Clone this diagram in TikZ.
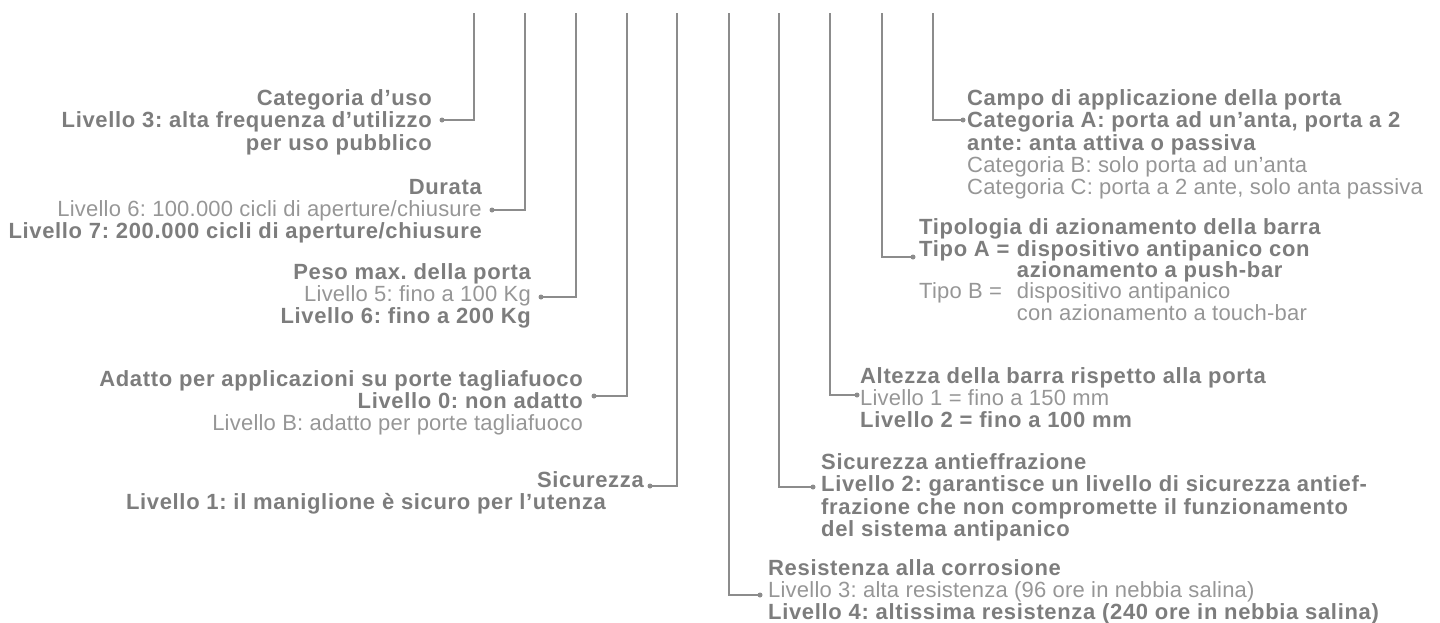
\documentclass[tikz,border=0pt]{standalone}
\usepackage{fontspec}
\setmainfont{Liberation Sans}
\newfontfamily\regf{Liberation Sans}[LetterSpace=1]
\newfontfamily\boldf{Liberation Sans}[LetterSpace=3]
\definecolor{tb}{RGB}{125,125,125}
\definecolor{tr}{RGB}{150,150,150}
\definecolor{ln}{RGB}{140,140,140}
\frenchspacing
\begin{document}
\begin{tikzpicture}[x=1pt,y=-1pt,
  lb/.style={font=\fontsize{22}{22}\boldf\bfseries\frenchspacing, text=tb, inner sep=0pt},
  lr/.style={font=\fontsize{22}{22}\regf\frenchspacing, text=tr, inner sep=0pt},
  conn/.style={draw=ln, line width=1.8pt},
  dotn/.style={circle, fill=ln, inner sep=0pt, minimum size=5pt}]
\useasboundingbox (0,0) rectangle (1440,622);

% ---------- left group ----------
\node[lb, anchor=base east] (a1) at (432,105) {Categoria d’uso};
\node[lb, anchor=base east] (a2) at (432,127) {Livello 3: alta frequenza d’utilizzo};
\node[lb, anchor=base east] (a3) at (432,150) {per uso pubblico};

\node[lb, anchor=base east] (b1) at (482,194) {Durata};
\node[lr, anchor=base east] (b2) at (482,216) {Livello 6: 100.000 cicli di aperture/chiusure};
\node[lb, anchor=base east] (b3) at (482,238) {Livello 7: 200.000 cicli di aperture/chiusure};

\node[lb, anchor=base east] (p1) at (531,279) {Peso max. della porta};
\node[lr, anchor=base east] (p2) at (531,301) {Livello 5: fino a 100 Kg};
\node[lb, anchor=base east] (p3) at (531,323) {Livello 6: fino a 200 Kg};

\node[lb, anchor=base east] (f1) at (583,386) {Adatto per applicazioni su porte tagliafuoco};
\node[lb, anchor=base east] (f2) at (583,408) {Livello 0: non adatto};
\node[lr, anchor=base east] (f3) at (583,430) {Livello B: adatto per porte tagliafuoco};

\node[lb, anchor=base east] (s1) at (644,487) {Sicurezza};
\node[lb, anchor=base] (s2) at (366,509) {Livello 1: il maniglione è sicuro per l’utenza};

% ---------- right group ----------
\node[lb, anchor=base west] (g1) at (967,105) {Campo di applicazione della porta};
\node[lb, anchor=base west] (g2) at (967,127) {Categoria A: porta ad un’anta, porta a 2};
\node[lb, anchor=base west] (g3) at (967,150) {ante: anta attiva o passiva};
\node[lr, anchor=base west] (g4) at (967,172) {Categoria B: solo porta ad un’anta};
\node[lr, anchor=base west] (g5) at (967,194) {Categoria C: porta a 2 ante, solo anta passiva};

\node[lb, anchor=base west] (h1) at (919,234) {Tipologia di azionamento della barra};
\node[lb, anchor=base west] (h2) at (919,256) {Tipo A =};
\node[lb, anchor=base west] (h2b) at ([xshift=7pt]h2.base east) {dispositivo antipanico con};
\node[lb, anchor=base west] (h3) at ([yshift=-21pt]h2b.base west) {azionamento a push-bar};
\node[lr, anchor=base west] (h4) at (919,298) {Tipo B =};
\node[lr, anchor=base west] (h4b) at (h2b.base west |- h4.base) {dispositivo antipanico};
\node[lr, anchor=base west] (h5) at ([yshift=-22pt]h4b.base west) {con azionamento a touch-bar};

\node[lb, anchor=base west] (k1) at (860,383) {Altezza della barra rispetto alla porta};
\node[lr, anchor=base west] (k2) at (860,405) {Livello 1 = fino a 150 mm};
\node[lb, anchor=base west] (k3) at (860,427) {Livello 2 = fino a 100 mm};

\node[lb, anchor=base west] (m1) at (821,469) {Sicurezza antieffrazione};
\node[lb, anchor=base west] (m2) at (821,491) {Livello 2: garantisce un livello di sicurezza antief-};
\node[lb, anchor=base west] (m3) at (821,514) {frazione che non compromette il funzionamento};
\node[lb, anchor=base west] (m4) at (821,536) {del sistema antipanico};

\node[lb, anchor=base west] (r1) at (768,575) {Resistenza alla corrosione};
\node[lr, anchor=base west] (r2) at (768,597) {Livello 3: alta resistenza (96 ore in nebbia salina)};
\node[lb, anchor=base west] (r3) at (768,619) {Livello 4: altissima resistenza (240 ore in nebbia salina)};

% ---------- connectors ----------
\coordinate (t1) at (474,13);
\coordinate (t2) at (525,13);
\coordinate (t3) at (576,13);
\coordinate (t4) at (627,13);
\coordinate (t5) at (677,13);
\coordinate (t6) at (729,13);
\coordinate (t7) at (779,13);
\coordinate (t8) at (830,13);
\coordinate (t9) at (882,13);
\coordinate (t10) at (933,13);

\node[dotn] (d1) at (442,120) {};
\node[dotn] (d2) at (492,210) {};
\node[dotn] (d3) at (541,297) {};
\node[dotn] (d4) at (594,396) {};
\node[dotn] (d5) at (650,486) {};
\node[dotn] (d6) at (760,595) {};
\node[dotn] (d7) at (813,487) {};
\node[dotn] (d8) at (857,395) {};
\node[dotn] (d9) at (913,257) {};
\node[dotn] (d10) at (963,120) {};

\foreach \i in {1,...,10} {
  \draw[conn] (t\i) |- (d\i.center);
}
\end{tikzpicture}
\end{document}
